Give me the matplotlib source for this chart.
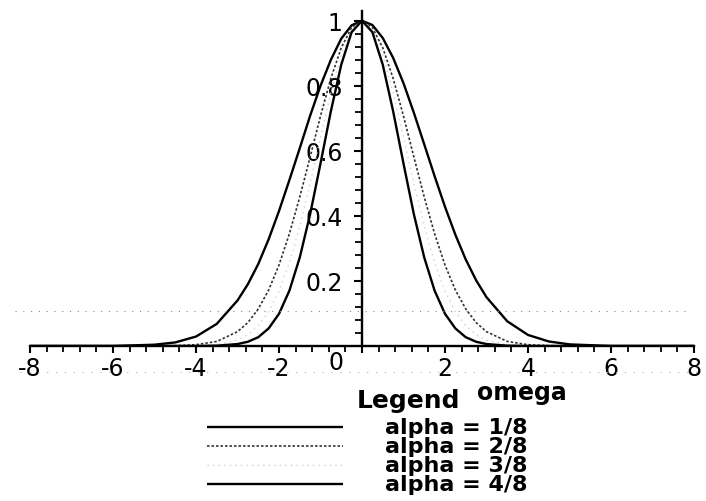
import matplotlib
matplotlib.use("Agg")
import matplotlib.pyplot as plt
from matplotlib.ticker import MultipleLocator, FixedLocator
from matplotlib.transforms import offset_copy

# ── data ──────────────────────────────────────────────────────────────────────
omega = [-8, -7, -6, -5, -4.5, -4, -3.5, -3, -2.75, -2.5, -2.25, -2, -1.75, -1.5,
         -1.25, -1, -0.75, -0.5, -0.25, 0, 0.25, 0.5, 0.75, 1, 1.25, 1.5, 1.75,
         2, 2.25, 2.5, 2.75, 3, 3.5, 4, 4.5, 5, 6, 7, 8]

alpha_1 = [0, 0, 0.000, 0.004, 0.011, 0.029, 0.068, 0.140, 0.190, 0.252, 0.328,
           0.415, 0.510, 0.608, 0.708, 0.800, 0.880, 0.945, 0.986, 1.000,
           0.987, 0.947, 0.886, 0.808, 0.717, 0.620, 0.522, 0.428, 0.342, 0.266,
           0.202, 0.150, 0.076, 0.034, 0.014, 0.005, 0.000, 0, 0]
alpha_2 = [0, 0, 0, 0, 0.001, 0.004, 0.014, 0.044, 0.072, 0.114, 0.172, 0.249,
           0.345, 0.458, 0.581, 0.707, 0.823, 0.917, 0.979, 1.000,
           0.979, 0.917, 0.823, 0.707, 0.581, 0.458, 0.345, 0.249, 0.172, 0.114,
           0.072, 0.044, 0.014, 0.004, 0.001, 0, 0, 0, 0]
alpha_3 = [0, 0, 0, 0, 0, 0.001, 0.004, 0.018, 0.035, 0.062, 0.105, 0.169,
           0.256, 0.367, 0.499, 0.641, 0.779, 0.895, 0.973, 1.000,
           0.973, 0.895, 0.779, 0.641, 0.499, 0.367, 0.256, 0.169, 0.105, 0.062,
           0.035, 0.018, 0.004, 0.001, 0, 0, 0, 0, 0]
alpha_4 = [0, 0, 0, 0, 0, 0, 0.001, 0.006, 0.013, 0.027, 0.054, 0.099, 0.170,
           0.272, 0.405, 0.561, 0.722, 0.865, 0.965, 1.000,
           0.965, 0.865, 0.722, 0.561, 0.405, 0.272, 0.170, 0.099, 0.054, 0.027,
           0.013, 0.006, 0.001, 0, 0, 0, 0, 0, 0]

series_labels = ["alpha = 1/8", "alpha = 2/8", "alpha = 3/8", "alpha = 4/8"]
x_ticks = [-8, -6, -4, -2, 0, 2, 4, 6, 8]
y_ticks = [0.2, 0.4, 0.6, 0.8, 1]

# ── styles ────────────────────────────────────────────────────────────────────
W, H = 706, 502
styles = [
    dict(color="black", lw=1.7, ls="-"),
    dict(color="#333333", lw=1.2, ls=(0, (1.5, 1.2))),
    dict(color="#d0d0d0", lw=1.0, ls=(0, (1, 3))),
    dict(color="black", lw=1.7, ls="-"),
]

fig = plt.figure(figsize=(W / 100, H / 100), dpi=100)
fig.patch.set_facecolor("white")

# axes placed so that -8..8 spans px 30..694 and 0..1 spans px 347..22
ax = fig.add_axes([30 / W, (H - 347) / H, 664 / W, 335 / H])
ax.set_xlim(-8, 8)
ax.set_ylim(0, 1.03)
ax.patch.set_alpha(0)

for vals, st in zip([alpha_1, alpha_2, alpha_3, alpha_4], styles):
    ax.plot(omega, vals, color=st["color"], lw=st["lw"], linestyle=st["ls"],
            solid_capstyle="butt", zorder=3)

for side in ("top", "right"):
    ax.spines[side].set_visible(False)
ax.spines["left"].set_position(("data", 0))
ax.spines["bottom"].set_position(("data", 0))
for side in ("left", "bottom"):
    ax.spines[side].set_linewidth(1.7)
    ax.spines[side].set_zorder(4)

ax.xaxis.set_major_locator(FixedLocator(x_ticks))
ax.xaxis.set_minor_locator(MultipleLocator(0.4))
ax.yaxis.set_major_locator(FixedLocator(y_ticks))
ax.yaxis.set_minor_locator(MultipleLocator(0.04))
ax.set_xticklabels([str(t) for t in x_ticks])
ax.set_yticklabels(["0.2", "0.4", "0.6", "0.8", "1"])

ax.tick_params(axis="x", which="major", direction="out", length=5, width=1.5,
               labelsize=17, pad=2)
ax.tick_params(axis="x", which="minor", direction="out", length=4, width=1.3)
ax.tick_params(axis="y", which="major", direction="out", length=6, width=1.5,
               labelsize=17, pad=8)
ax.tick_params(axis="y", which="minor", direction="out", length=5, width=1.3)

# Maple pushes the "0" label to the left of the vertical axis
for lab in ax.get_xticklabels():
    if lab.get_text() == "0":
        lab.set_transform(offset_copy(lab.get_transform(), fig=fig,
                                      x=-26, y=6, units="dots"))

# ── overlay in pixel coordinates: legend, axis label, scan lines ──────────────
ov = fig.add_axes([0, 0, 1, 1], zorder=5)
ov.set_xlim(0, W)
ov.set_ylim(H, 0)
ov.axis("off")
ov.patch.set_alpha(0)

ov.plot([15, 690], [312, 312], color="#8a8a8a", lw=0.8, ls=(0, (1, 6)))
ov.plot([20, 700], [373, 373], color="#b0b0b0", lw=0.8, ls=(0, (1, 7)))

ov.text(477, 400, "omega", ha="left", va="baseline", fontsize=17,
        fontweight="bold")
ov.text(357, 408, "Legend", ha="left", va="baseline", fontsize=18,
        fontweight="bold")

row_y = [428, 447, 466, 485]
for lab, st, y in zip(series_labels, styles, row_y):
    ov.plot([207, 343], [y, y], color=st["color"], lw=st["lw"],
            linestyle=st["ls"], solid_capstyle="butt")
    ov.text(385, y, lab, ha="left", va="center", fontsize=16,
            fontweight="bold")

fig.savefig("out.png", dpi=100, facecolor="white")
plt.close(fig)
